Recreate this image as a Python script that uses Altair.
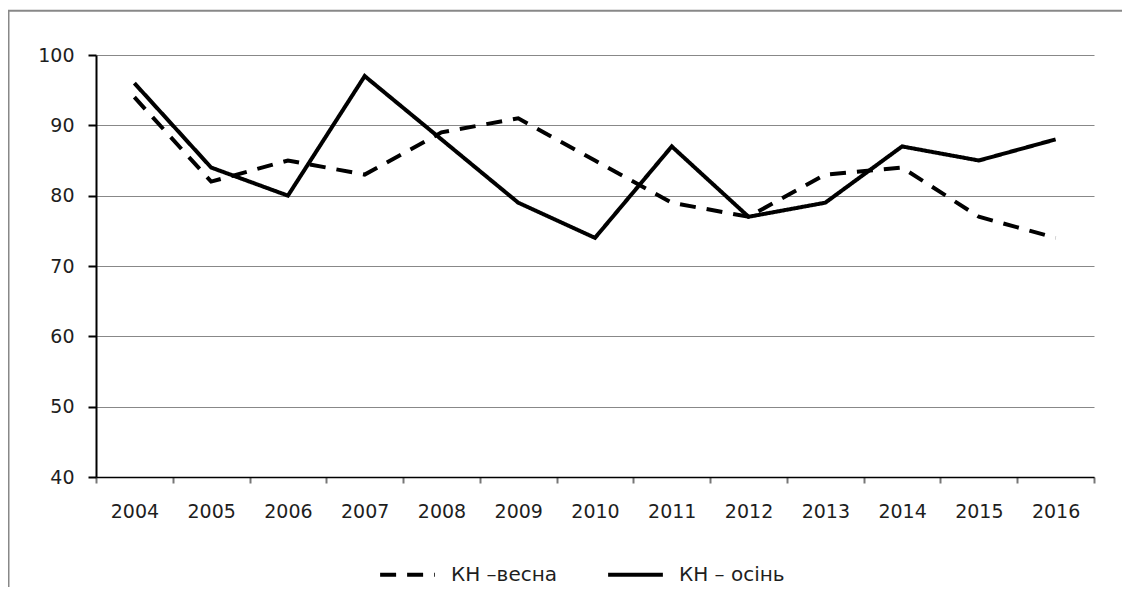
import altair as alt
import pandas as pd

years = [str(y) for y in range(2004, 2017)]
spring = [94, 82, 85, 83, 89, 91, 85, 79, 77, 83, 84, 77, 74]
autumn = [96, 84, 80, 97, 88, 79, 74, 87, 77, 79, 87, 85, 88]
series_names = ["КН –весна", "КН – осінь"]

rows = []
for name, vals in zip(series_names, [spring, autumn]):
    for yr, v in zip(years, vals):
        rows.append({"year": yr, "value": v, "series": name})
df = pd.DataFrame(rows)

FONT = "DejaVu Sans"
TXT = "#1e1e1e"

leg = alt.Legend(title=None, orient="none", direction="horizontal", legendX=282, legendY=490)

lines = alt.Chart(df).mark_line(strokeWidth=4, strokeCap="butt", strokeJoin="miter").encode(
    x=alt.X("year:N", bandPosition=0.5,
            scale=alt.Scale(type="band", paddingInner=0, paddingOuter=0, domain=years),
            axis=alt.Axis(title=None, labelAngle=0, tickBand="extent", domainColor="#000",
                          domainWidth=1.6, tickColor="#777", tickWidth=2, tickSize=6,
                          labelPadding=19, labelFont=FONT, labelFontSize=19, labelColor=TXT,
                          grid=False)),
    y=alt.Y("value:Q",
            scale=alt.Scale(domain=[40, 100], nice=False, zero=False),
            axis=alt.Axis(title=None, values=[40, 50, 60, 70, 80, 90, 100], domainColor="#000",
                          domainWidth=2, tickColor="#000", tickWidth=2, tickSize=8,
                          labelPadding=14, labelFont=FONT, labelFontSize=19, labelColor=TXT,
                          grid=True, gridColor="#888888", gridWidth=1)),
    color=alt.Color("series:N", scale=alt.Scale(domain=series_names, range=["#000000", "#000000"]),
                    legend=leg),
    strokeDash=alt.StrokeDash("series:N", scale=alt.Scale(domain=series_names, range=[[16, 11], [1, 0]]),
                              legend=leg),
)

frame_left = alt.Chart(alt.Data(values=[{"a": 1}])).mark_rule(color="#888888", strokeWidth=2).encode(
    x=alt.value(-87.5), y=alt.value(-44.5), y2=alt.value(600))
frame_top = alt.Chart(alt.Data(values=[{"a": 1}])).mark_rule(color="#888888", strokeWidth=2).encode(
    x=alt.value(-92), x2=alt.value(1100), y=alt.value(-44.2))

chart = alt.layer(frame_left, frame_top, lines).properties(
    width=998, height=422,
    padding={"left": 88, "top": 47, "right": 28, "bottom": 110},
    autosize=alt.AutoSizeParams(type="none"),
    background="white",
).configure_view(stroke=None).configure_legend(
    labelFont=FONT, labelFontSize=20, labelColor=TXT, symbolType="stroke",
    symbolSize=3000, symbolStrokeWidth=4, labelOffset=14, columnPadding=42,
    symbolStrokeColor="#000"
)

chart.save("out.html", embed_options={"renderer": "svg", "actions": False})
